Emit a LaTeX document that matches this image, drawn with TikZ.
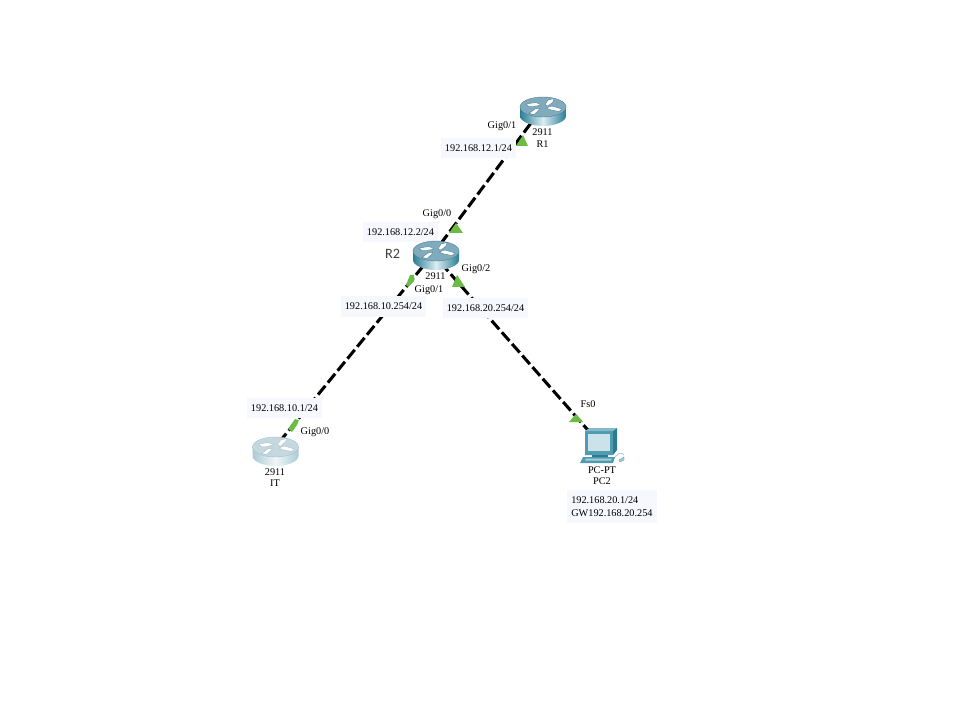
\documentclass[tikz,border=0pt]{standalone}
\usepackage{fontspec}
\setmainfont{Liberation Serif}
\newfontfamily\rtwofont{Carlito}
\definecolor{boxbg}{HTML}{F6F8FE}
\definecolor{portgreen}{HTML}{6CBB45}
\definecolor{rdark}{HTML}{2A7D95}
\definecolor{rmid}{HTML}{DCEDF2}
\definecolor{rtop}{HTML}{7FABBD}
\definecolor{redge}{HTML}{4F8296}
\definecolor{idark}{HTML}{A9CBD5}
\definecolor{imid}{HTML}{F1F7F9}
\definecolor{itop}{HTML}{C6D8DF}
\definecolor{iedge}{HTML}{A5C0CB}
\definecolor{pcframe}{HTML}{4F9BB0}
\definecolor{pcside}{HTML}{2B7C93}
\definecolor{pctop}{HTML}{84BBCB}
\definecolor{pcscreen}{HTML}{CBE2EA}
\definecolor{pckey}{HTML}{A7CDD8}
\tikzset{
  x=0.75pt,y=-0.75pt,
  link/.style={line width=2.3pt,black,dash pattern=on 8.6pt off 3pt},
  anchorbox/.style={inner sep=0pt,minimum size=1pt},
  txt/.style={inner sep=0pt,font=\fontsize{7.7}{9.75}\selectfont,text=black},
  addr/.style={txt,fill=boxbg,minimum height=15pt,minimum width=56.25pt},
  addrwide/.style={addr,minimum width=63.75pt},
  port/.style={fill=portgreen,draw=none}
}
\newcommand{\routericon}[7]{% x y dark mid top edge white
  \begin{scope}[shift={(#1,#2)}]
    \shade[left color=#3,right color=#3,middle color=#4]
      (-23,0) -- (-23,9) .. controls (-23,14.5) and (-12,19) .. (0,19)
      .. controls (12,19) and (23,14.5) .. (23,9) -- (23,0) -- cycle;
    \fill[#5,draw=#6,line width=0.3pt] (0,0) ellipse [x radius=23,y radius=10];
    \begin{scope}[#7,draw=#6,line width=0.3pt]
      \filldraw (-17,-3) -- (-7,-4.5) -- (-2,-2) -- (-9,-0.5) -- (-14,-0.5) -- cycle;
      \filldraw (2,-2) -- (5,-7) -- (11,-8.5) -- (10,-5) -- (5,-1) -- cycle;
      \filldraw (3,1) -- (9,-1) -- (19,2) -- (16,4.5) -- (8,3) -- cycle;
      \filldraw (-14,6.5) -- (-8,2) -- (-3,1) -- (-5,4) -- (-9,7.5) -- cycle;
    \end{scope}
  \end{scope}}
\begin{document}
\begin{tikzpicture}
\fill[white] (0,0) rectangle (960,720);
\useasboundingbox (0,0) rectangle (960,720);
% connection end points (device centres)
\node[anchorbox] (r1) at (540,111) {};
\node[anchorbox] (r2) at (433,254) {};
\node[anchorbox] (it) at (272,451) {};
\node[anchorbox] (pc) at (601,445) {};
% links
\draw[link] (r1.center) -- (r2.center);
\draw[link] (r2.center) -- (it.center);
\draw[link,dash phase=3pt] (r2.center) -- (pc.center);
% address boxes
\node[addr] (a1) at (478.5,148.5) {192.168.12.1/24};
\node[addr] (a2) at (400.5,232) {192.168.12.2/24};
\node[addrwide] (a3) at (383.5,306.5) {192.168.10.254/24};
\node[addrwide] (a4) at (485.5,308) {192.168.20.254/24};
\node[addr] (a5) at (284.5,408) {192.168.10.1/24};
\node[txt,fill=boxbg,align=left,anchor=north west,minimum width=66.75pt,minimum height=24.75pt,inner xsep=3pt] (a6) at (567,490)
  {192.168.20.1/24\\GW192.168.20.254};
% port markers
\fill[port] (523,135) -- (528,146) -- (516,146) -- cycle;
\fill[port] (456,223) -- (463,233) -- (449,233) -- cycle;
\fill[port] (457,275) -- (465,287) -- (452,287) -- cycle;
\fill[port] (576,414) -- (583,422) -- (569,422) -- cycle;
\fill[port] (410,275) -- (414,275) -- (414,281) -- (408,287) -- (406,285) -- cycle;
\fill[port] (295,419) -- (299,420) -- (297,425) -- (292,432) -- (288,429) -- cycle;
% devices
\routericon{543}{107}{rdark}{rmid}{rtop}{redge}{white}
\routericon{436}{251}{rdark}{rmid}{rtop}{redge}{white}
\routericon{275.5}{447}{idark}{imid}{itop}{iedge}{white}
% PC
\fill[pcside] (590,428) -- (617,428) -- (617,450) -- (613,455) -- (585,455) -- (585,431) -- cycle;
\fill[pcframe] (585,431) -- (613,431) -- (613,455) -- (585,455) -- cycle;
\fill[pctop] (585,431) -- (613,431) -- (617,428) -- (590,428) -- cycle;
\fill[pcscreen] (588,434) -- (610,434) -- (610,451) -- (588,451) -- cycle;
\fill[pcside] (592,455) -- (608,455) -- (608,458) -- (592,458) -- cycle;
\fill[pcframe] (583,457) -- (615,457) -- (613,463) -- (580,463) -- cycle;
\fill[pckey] (586,458.5) -- (612,458.5) -- (611,460.5) -- (585,460.5) -- cycle;
\draw[pckey,line width=0.6pt] (615,457) .. controls (618,453) and (622,452) .. (624,455);
\fill[pckey,draw=pcframe,line width=0.3pt] (619,460) -- (624,457) -- (624,460) -- (620,462) -- cycle;
% texts
\node[txt] (g1) at (502,126) {Gig0/1};
\node[txt] (m1) at (542.5,132) {2911};
\node[txt] (n1) at (542.5,144) {R1};
\node[txt] (g2) at (437,214) {Gig0/0};
\node[txt] (g3) at (429,290) {Gig0/1};
\node[txt] (m2) at (435.5,276) {2911};
\node[txt] (g4) at (476,269) {Gig0/2};
\node[inner sep=0pt,font=\rtwofont\fontsize{10.7}{12}\selectfont,text=black!75] (n2) at (392.5,254) {R2};
\node[txt] (g5) at (315,432) {Gig0/0};
\node[txt] (m3) at (275,472) {2911};
\node[txt] (n3) at (275,483) {IT};
\node[txt] (f0) at (588,404) {Fs0};
\node[txt] (m4) at (602,470) {PC-PT};
\node[txt] (n4) at (602,481) {PC2};
\end{tikzpicture}
\end{document}
